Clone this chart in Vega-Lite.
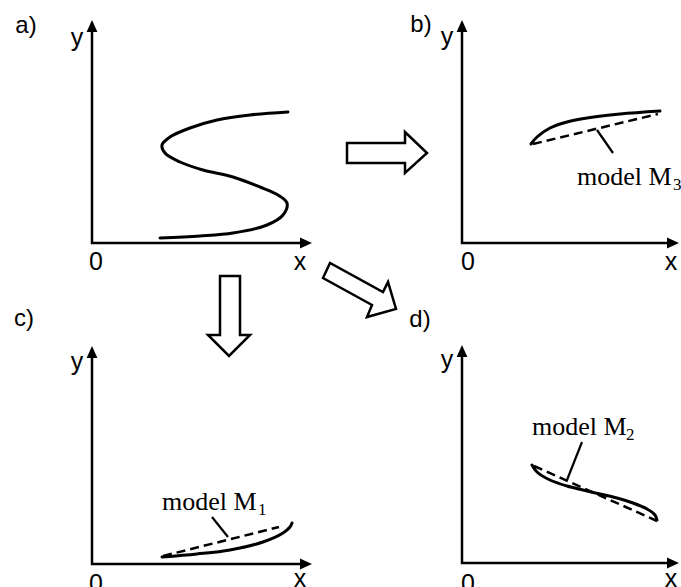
{
  "$schema": "https://vega.github.io/schema/vega-lite/v6.json",
  "width": 681,
  "height": 587,
  "padding": 0,
  "autosize": {"type": "none"},
  "background": "white",
  "config": {"view": {"stroke": null}},
  "datasets": {
    "axes": [
      {"id": "a", "i": 1, "x": 92, "y": 31}, {"id": "a", "i": 2, "x": 92, "y": 243}, {"id": "a", "i": 3, "x": 301, "y": 243},
      {"id": "b", "i": 1, "x": 462, "y": 31}, {"id": "b", "i": 2, "x": 462, "y": 243}, {"id": "b", "i": 3, "x": 668, "y": 243},
      {"id": "c", "i": 1, "x": 92, "y": 357}, {"id": "c", "i": 2, "x": 92, "y": 564}, {"id": "c", "i": 3, "x": 301, "y": 564},
      {"id": "d", "i": 1, "x": 462, "y": 356}, {"id": "d", "i": 2, "x": 462, "y": 563}, {"id": "d", "i": 3, "x": 668, "y": 563}
    ],
    "heads": [
      {"dir": "up", "x": 92, "y": 20}, {"dir": "up", "x": 462, "y": 20}, {"dir": "up", "x": 92, "y": 346}, {"dir": "up", "x": 462, "y": 345},
      {"dir": "right", "x": 312, "y": 243}, {"dir": "right", "x": 679, "y": 243}, {"dir": "right", "x": 312, "y": 564}, {"dir": "right", "x": 679, "y": 563}
    ],
    "curves": [
      {"id": "a", "kind": "data", "i": 1, "x": 288, "y": 112},
      {"id": "a", "kind": "data", "i": 2, "x": 250, "y": 115},
      {"id": "a", "kind": "data", "i": 3, "x": 217, "y": 120},
      {"id": "a", "kind": "data", "i": 4, "x": 190, "y": 128},
      {"id": "a", "kind": "data", "i": 5, "x": 170, "y": 137},
      {"id": "a", "kind": "data", "i": 6, "x": 162, "y": 145},
      {"id": "a", "kind": "data", "i": 7, "x": 165, "y": 153},
      {"id": "a", "kind": "data", "i": 8, "x": 180, "y": 162},
      {"id": "a", "kind": "data", "i": 9, "x": 203, "y": 170},
      {"id": "a", "kind": "data", "i": 10, "x": 233, "y": 177},
      {"id": "a", "kind": "data", "i": 11, "x": 260, "y": 187},
      {"id": "a", "kind": "data", "i": 12, "x": 278, "y": 195},
      {"id": "a", "kind": "data", "i": 13, "x": 287, "y": 203},
      {"id": "a", "kind": "data", "i": 14, "x": 283, "y": 215},
      {"id": "a", "kind": "data", "i": 15, "x": 267, "y": 225},
      {"id": "a", "kind": "data", "i": 16, "x": 233, "y": 233},
      {"id": "a", "kind": "data", "i": 17, "x": 200, "y": 236},
      {"id": "a", "kind": "data", "i": 18, "x": 160, "y": 238},
      {"id": "b", "kind": "data", "i": 1, "x": 531, "y": 144},
      {"id": "b", "kind": "data", "i": 2, "x": 537, "y": 137},
      {"id": "b", "kind": "data", "i": 3, "x": 550, "y": 128},
      {"id": "b", "kind": "data", "i": 4, "x": 567, "y": 122},
      {"id": "b", "kind": "data", "i": 5, "x": 587, "y": 118},
      {"id": "b", "kind": "data", "i": 6, "x": 620, "y": 114},
      {"id": "b", "kind": "data", "i": 7, "x": 660, "y": 111},
      {"id": "c", "kind": "data", "i": 1, "x": 162, "y": 557},
      {"id": "c", "kind": "data", "i": 2, "x": 197, "y": 554},
      {"id": "c", "kind": "data", "i": 3, "x": 230, "y": 550},
      {"id": "c", "kind": "data", "i": 4, "x": 263, "y": 542},
      {"id": "c", "kind": "data", "i": 5, "x": 283, "y": 533},
      {"id": "c", "kind": "data", "i": 6, "x": 290, "y": 527},
      {"id": "c", "kind": "data", "i": 7, "x": 292, "y": 523},
      {"id": "d", "kind": "data", "i": 1, "x": 532, "y": 465},
      {"id": "d", "kind": "data", "i": 2, "x": 537, "y": 472},
      {"id": "d", "kind": "data", "i": 3, "x": 550, "y": 480},
      {"id": "d", "kind": "data", "i": 4, "x": 567, "y": 486},
      {"id": "d", "kind": "data", "i": 5, "x": 583, "y": 490},
      {"id": "d", "kind": "data", "i": 6, "x": 600, "y": 494},
      {"id": "d", "kind": "data", "i": 7, "x": 617, "y": 498},
      {"id": "d", "kind": "data", "i": 8, "x": 633, "y": 503},
      {"id": "d", "kind": "data", "i": 9, "x": 647, "y": 509},
      {"id": "d", "kind": "data", "i": 10, "x": 655, "y": 515},
      {"id": "d", "kind": "data", "i": 11, "x": 657, "y": 520},
      {"id": "b", "kind": "model", "i": 1, "x": 533, "y": 144},
      {"id": "b", "kind": "model", "i": 2, "x": 658, "y": 114},
      {"id": "c", "kind": "model", "i": 1, "x": 163, "y": 556},
      {"id": "c", "kind": "model", "i": 2, "x": 279, "y": 527},
      {"id": "d", "kind": "model", "i": 1, "x": 534, "y": 466},
      {"id": "d", "kind": "model", "i": 2, "x": 657, "y": 521}
    ],
    "leaders": [
      {"id": "b", "i": 1, "x": 597, "y": 130}, {"id": "b", "i": 2, "x": 613, "y": 153},
      {"id": "c", "i": 1, "x": 212, "y": 517}, {"id": "c", "i": 2, "x": 228, "y": 537},
      {"id": "d", "i": 1, "x": 582, "y": 442}, {"id": "d", "i": 2, "x": 567, "y": 480}
    ],
    "blocks": [
      {"id": "right", "i": 1, "x": 347, "y": 153}, {"id": "right", "i": 2, "x": 347, "y": 143}, {"id": "right", "i": 3, "x": 405, "y": 143},
      {"id": "right", "i": 4, "x": 405, "y": 132}, {"id": "right", "i": 5, "x": 427, "y": 153}, {"id": "right", "i": 6, "x": 405, "y": 173},
      {"id": "right", "i": 7, "x": 405, "y": 163}, {"id": "right", "i": 8, "x": 347, "y": 163}, {"id": "right", "i": 9, "x": 347, "y": 153},
      {"id": "down", "i": 1, "x": 230, "y": 276}, {"id": "down", "i": 2, "x": 240, "y": 276}, {"id": "down", "i": 3, "x": 240, "y": 335},
      {"id": "down", "i": 4, "x": 250, "y": 335}, {"id": "down", "i": 5, "x": 229, "y": 356}, {"id": "down", "i": 6, "x": 208, "y": 335},
      {"id": "down", "i": 7, "x": 220, "y": 335}, {"id": "down", "i": 8, "x": 220, "y": 276}, {"id": "down", "i": 9, "x": 230, "y": 276},
      {"id": "diag", "i": 1, "x": 326.5, "y": 270.5}, {"id": "diag", "i": 2, "x": 330, "y": 263}, {"id": "diag", "i": 3, "x": 383, "y": 292},
      {"id": "diag", "i": 4, "x": 388, "y": 282}, {"id": "diag", "i": 5, "x": 396, "y": 309}, {"id": "diag", "i": 6, "x": 367, "y": 317},
      {"id": "diag", "i": 7, "x": 372, "y": 305}, {"id": "diag", "i": 8, "x": 323, "y": 278}, {"id": "diag", "i": 9, "x": 326.5, "y": 270.5}
    ],
    "panelLabels": [
      {"t": "a)", "x": 26, "y": 33}, {"t": "b)", "x": 421, "y": 32}, {"t": "c)", "x": 24, "y": 326}, {"t": "d)", "x": 420, "y": 327}
    ],
    "axisLabels": [
      {"t": "y", "x": 77, "y": 46}, {"t": "0", "x": 96, "y": 270}, {"t": "x", "x": 300, "y": 270},
      {"t": "y", "x": 447, "y": 45}, {"t": "0", "x": 468, "y": 270}, {"t": "x", "x": 671, "y": 270},
      {"t": "y", "x": 77, "y": 370}, {"t": "0", "x": 96, "y": 592}, {"t": "x", "x": 300, "y": 587},
      {"t": "y", "x": 447, "y": 368}, {"t": "0", "x": 468, "y": 592}, {"t": "x", "x": 671, "y": 587}
    ],
    "modelLabels": [
      {"t": "model M", "x": 577, "y": 185}, {"t": "model M", "x": 162, "y": 510}, {"t": "model M", "x": 532, "y": 435}
    ],
    "subscripts": [
      {"t": "3", "x": 673, "y": 190}, {"t": "1", "x": 258, "y": 515}, {"t": "2", "x": 626, "y": 440}
    ]
  },
  "encoding": {
    "x": {"field": "x", "type": "quantitative", "scale": {"domain": [0, 681], "nice": false, "zero": false}, "axis": null},
    "y": {"field": "y", "type": "quantitative", "scale": {"domain": [0, 587], "nice": false, "zero": false, "reverse": true}, "axis": null}
  },
  "layer": [
    {
      "data": {"name": "axes"},
      "mark": {"type": "line", "color": "black", "strokeWidth": 2.5, "strokeJoin": "miter", "strokeCap": "butt"},
      "encoding": {"detail": {"field": "id"}, "order": {"field": "i"}}
    },
    {
      "data": {"name": "heads"},
      "transform": [{"filter": "datum.dir === 'up'"}],
      "mark": {"type": "point", "filled": true, "color": "black", "opacity": 1, "shape": "M0,0L0.9,2L-0.9,2Z", "size": 144, "angle": 0}
    },
    {
      "data": {"name": "heads"},
      "transform": [{"filter": "datum.dir === 'right'"}],
      "mark": {"type": "point", "filled": true, "color": "black", "opacity": 1, "shape": "M0,0L0.9,2L-0.9,2Z", "size": 144, "angle": 90}
    },
    {
      "data": {"name": "curves"},
      "transform": [{"filter": "datum.kind === 'data'"}],
      "mark": {"type": "line", "color": "black", "strokeWidth": 3, "interpolate": "catmull-rom", "strokeCap": "round"},
      "encoding": {"detail": {"field": "id"}, "order": {"field": "i"}}
    },
    {
      "data": {"name": "curves"},
      "transform": [{"filter": "datum.kind === 'model'"}],
      "mark": {"type": "line", "color": "black", "strokeWidth": 2.5, "strokeDash": [9, 5]},
      "encoding": {"detail": {"field": "id"}, "order": {"field": "i"}}
    },
    {
      "data": {"name": "leaders"},
      "mark": {"type": "line", "color": "black", "strokeWidth": 2.2},
      "encoding": {"detail": {"field": "id"}, "order": {"field": "i"}}
    },
    {
      "data": {"name": "blocks"},
      "mark": {"type": "line", "color": "black", "strokeWidth": 2.5, "strokeJoin": "miter", "strokeMiterLimit": 10},
      "encoding": {"detail": {"field": "id"}, "order": {"field": "i"}}
    },
    {
      "data": {"name": "panelLabels"},
      "mark": {"type": "text", "font": "Liberation Sans", "fontSize": 24, "color": "black", "align": "center", "baseline": "alphabetic"},
      "encoding": {"text": {"field": "t"}}
    },
    {
      "data": {"name": "axisLabels"},
      "mark": {"type": "text", "font": "Liberation Sans", "fontSize": 25, "color": "black", "align": "center", "baseline": "alphabetic"},
      "encoding": {"text": {"field": "t"}}
    },
    {
      "data": {"name": "modelLabels"},
      "mark": {"type": "text", "font": "Liberation Serif", "fontSize": 26, "color": "black", "align": "left", "baseline": "alphabetic"},
      "encoding": {"text": {"field": "t"}}
    },
    {
      "data": {"name": "subscripts"},
      "mark": {"type": "text", "font": "Liberation Serif", "fontSize": 17, "color": "black", "align": "left", "baseline": "alphabetic"},
      "encoding": {"text": {"field": "t"}}
    }
  ]
}
